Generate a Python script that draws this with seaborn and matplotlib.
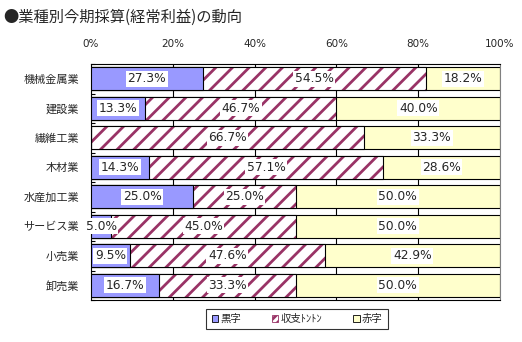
import matplotlib
matplotlib.use("Agg")
import matplotlib.pyplot as plt
import seaborn as sns
import pandas as pd
import numpy as np
from matplotlib.patches import Patch

categories = ["機械金属業", "建設業", "繊維工業", "木材業", "水産加工業", "サービス業", "小売業", "卸売業"]
kuroji = [27.3, 13.3, 0.0, 14.3, 25.0, 5.0, 9.5, 16.7]
tonton = [54.5, 46.7, 66.7, 57.1, 25.0, 45.0, 47.6, 33.3]
akaji = [18.2, 40.0, 33.3, 28.6, 50.0, 50.0, 42.9, 50.0]
series_names = ["黒字", "収支ﾄﾝﾄﾝ", "赤字"]
tick_vals = [0, 20, 40, 60, 80, 100]
title = "●業種別今期採算(経常利益)の動向"

sns.set_style("white")
plt.rcParams['font.family'] = ['Noto Sans CJK JP', 'DejaVu Sans']
plt.rcParams['hatch.linewidth'] = 2.0

C_BLUE = "#9999FF"
C_HATCH = "#993366"
C_YEL = "#FFFFCC"

df = pd.DataFrame({"cat": categories, "k": kuroji, "t": tonton, "a": akaji})
df["c1"] = df["k"]
df["c2"] = df["k"] + df["t"]
df["c3"] = df["c2"] + df["a"]

fig = plt.figure(figsize=(5.22, 3.42), dpi=100)
ax = fig.add_axes([91/522, 1-300/342, (500-91)/522, (300-64)/342])

W = 0.78
for v in [20, 40, 60, 80]:
    ax.axvline(v, color="black", lw=0.8, zorder=0)

sns.barplot(data=df, x="c3", y="cat", color=C_YEL, width=W, edgecolor="black",
            linewidth=0.8, saturation=1, ax=ax, orient="h", zorder=1)
sns.barplot(data=df, x="c2", y="cat", color="white", width=W, edgecolor=C_HATCH,
            linewidth=0, hatch="//", saturation=1, ax=ax, orient="h", zorder=2)
sns.barplot(data=df, x="c2", y="cat", fill=False, width=W, edgecolor="black",
            linewidth=0.8, ax=ax, orient="h", zorder=3)
sns.barplot(data=df, x="c1", y="cat", color=C_BLUE, width=W, edgecolor="black",
            linewidth=0.8, saturation=1, ax=ax, orient="h", zorder=4)

for i in range(len(categories)):
    starts = [0, df["c1"][i], df["c2"][i]]
    vals = [kuroji[i], tonton[i], akaji[i]]
    for s, v in zip(starts, vals):
        if v <= 0:
            continue
        ax.text(s + v/2, i, f"{v:.1f}%", ha="center", va="center", fontsize=8.8,
                family=['DejaVu Sans'], zorder=6,
                bbox=dict(boxstyle="square,pad=0.12", fc="white", ec="none"))

ax.set_xlim(0, 100)
ax.set_ylim(len(categories) - 0.5, -0.5)
ax.set_xlabel("")
ax.set_ylabel("")
ax.xaxis.set_ticks_position("top")
ax.set_xticks(tick_vals)
ax.set_xticklabels([f"{v}%" for v in tick_vals], fontsize=7.5, family=['DejaVu Sans'])
ax.tick_params(axis="x", length=0, pad=10.5)
ax.tick_params(axis="y", length=0, pad=8.5, labelsize=8)
ax.set_yticks(range(len(categories)))
ax.set_yticks(np.arange(-0.5, len(categories), 1), minor=True)
ax.tick_params(axis="y", which="minor", direction="in", length=3, width=0.8, color="black", left=True)
for s in ["left", "top", "bottom"]:
    ax.spines[s].set_color("black")
    ax.spines[s].set_linewidth(0.8)
ax.spines["right"].set_color("#808080")
ax.spines["right"].set_linewidth(0.8)
ax.grid(False)

handles = [
    Patch(facecolor=C_BLUE, edgecolor="black", lw=0.6),
    Patch(facecolor="white", edgecolor=C_HATCH, hatch="////", lw=0.6),
    Patch(facecolor=C_YEL, edgecolor="black", lw=0.6),
]
leg = fig.legend(handles, series_names, loc="center", bbox_to_anchor=(297/522, 1-319/342),
                 ncol=3, fontsize=7.5, frameon=True, fancybox=False, handlelength=0.6,
                 handleheight=0.6, handletextpad=0.2, columnspacing=3.0, borderpad=0.5,
                 borderaxespad=0, )
leg.get_frame().set_edgecolor("black")
leg.get_frame().set_linewidth(0.8)
leg._legend_box.sep = 0

fig.text(3/522, 1-17/342, title, fontsize=11, va="center", ha="left")

fig.savefig("out.png", dpi=100)
